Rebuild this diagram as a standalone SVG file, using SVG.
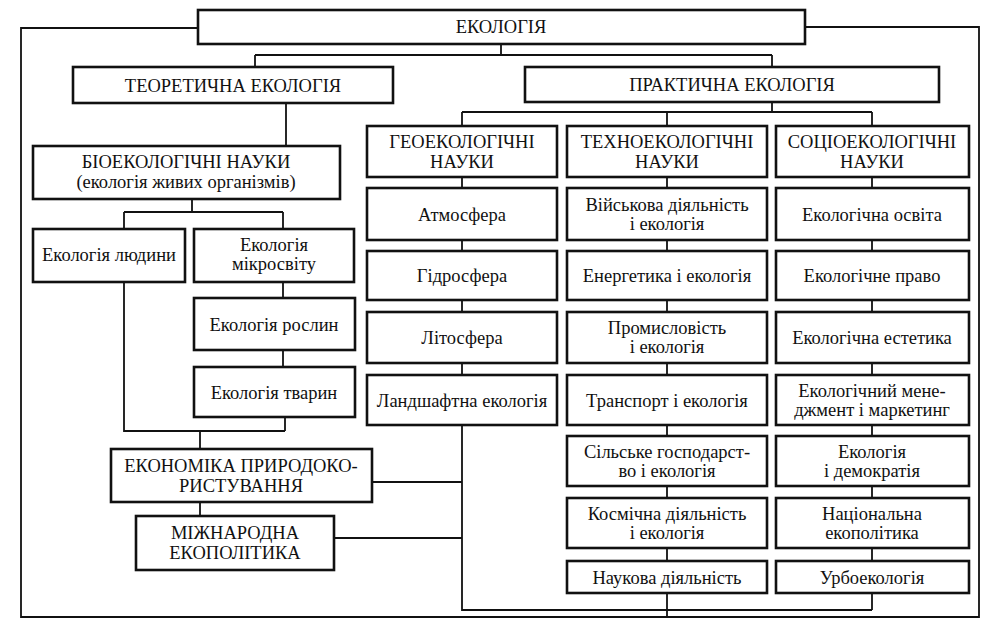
<svg xmlns="http://www.w3.org/2000/svg" width="987" height="626" viewBox="0 0 987 626">
<style>
.box{fill:#fff;stroke:#111;stroke-width:2.6}
.ln{fill:none;stroke:#111;stroke-width:1.8}
text{font-family:"Liberation Serif","Times New Roman",serif;fill:#111;text-anchor:middle}
.cap{font-size:18.5px}
.it{font-size:18.5px}
</style>
<rect width="987" height="626" fill="#fff"/>
<g id="connectors" class="ln">
<path d="M198,28 H21 V617 H979 V27 H805"/>
<path d="M501,44 V55 M255,55 H772 M255,55 V67 M772,55 V67"/>
<path d="M286,103 V146"/>
<path d="M772,102 V112 M462,112 H872 M462,112 V126 M667,112 V126 M872,112 V126"/>
<path d="M462,177 V188 M462,240 V251 M462,300 V312 M462,363 V375 M462,425 V610 H872"/>
<path d="M667,177 V188 M667,240 V251 M667,300 V312 M667,363 V375 M667,425 V436 M667,486 V498 M667,548 V561 M667,593 V617"/>
<path d="M872,177 V188 M872,240 V251 M872,300 V312 M872,363 V375 M872,425 V436 M872,486 V498 M872,548 V561 M872,593 V610"/>
<path d="M372,482 H462 M334,538 H462"/>
<path d="M192,199 V212 M124,212 H283 M124,212 V229 M283,212 V229"/>
<path d="M283,282 V298 M283,350 V367"/>
<path d="M124,282 V431 H285 M285,417 V431 M200,431 V449 M200,502 V516"/>
</g>
<g id="ekologiya"><rect class="box" x="198" y="10" width="607" height="34"/><text class="cap" x="501" y="33">ЕКОЛОГІЯ</text></g>
<g id="teor"><rect class="box" x="73" y="67" width="320" height="36"/><text class="cap" x="233" y="91.5">ТЕОРЕТИЧНА ЕКОЛОГІЯ</text></g>
<g id="prakt"><rect class="box" x="525" y="67" width="414" height="35"/><text class="cap" x="732" y="91">ПРАКТИЧНА ЕКОЛОГІЯ</text></g>
<g id="bio"><rect class="box" x="33" y="146" width="307" height="53"/><text class="cap" x="186" y="167.5">БІОЕКОЛОГІЧНІ НАУКИ</text><text class="it" x="186" y="187.5">(екологія живих організмів)</text></g>
<g id="lyudyny"><rect class="box" x="33" y="229" width="152" height="53"/><text class="it" x="109" y="261">Екологія людини</text></g>
<g id="mikro"><rect class="box" x="194" y="229" width="160" height="53"/><text class="it" x="274" y="250.5">Екологія</text><text class="it" x="274" y="269.5">мікросвіту</text></g>
<g id="roslyn"><rect class="box" x="194" y="298" width="161" height="52"/><text class="it" x="274" y="330.5">Екологія рослин</text></g>
<g id="tvaryn"><rect class="box" x="194" y="367" width="161" height="50"/><text class="it" x="274" y="398.5">Екологія тварин</text></g>
<g id="ekonomika"><rect class="box" x="111" y="449" width="261" height="53"/><text class="cap" x="241" y="471.5">ЕКОНОМІКА ПРИРОДОКО-</text><text class="cap" x="241" y="491.5">РИСТУВАННЯ</text></g>
<g id="mizhnar"><rect class="box" x="136" y="516" width="198" height="54"/><text class="cap" x="235" y="539">МІЖНАРОДНА</text><text class="cap" x="235" y="559">ЕКОПОЛІТИКА</text></g>
<g id="geo"><rect class="box" x="367" y="126" width="190" height="51"/><text class="cap" x="462" y="148">ГЕОЕКОЛОГІЧНІ</text><text class="cap" x="462" y="168">НАУКИ</text></g>
<g id="tekhno"><rect class="box" x="567" y="126" width="200" height="51"/><text class="cap" x="667" y="148">ТЕХНОЕКОЛОГІЧНІ</text><text class="cap" x="667" y="168">НАУКИ</text></g>
<g id="sotsio"><rect class="box" x="776" y="126" width="193" height="51"/><text class="cap" x="872" y="148">СОЦІОЕКОЛОГІЧНІ</text><text class="cap" x="872" y="168">НАУКИ</text></g>
<g id="atmo"><rect class="box" x="367" y="188" width="190" height="52"/><text class="it" x="462" y="220.5">Атмосфера</text></g>
<g id="hidro"><rect class="box" x="367" y="251" width="190" height="49"/><text class="it" x="462" y="282">Гідросфера</text></g>
<g id="lito"><rect class="box" x="367" y="312" width="190" height="51"/><text class="it" x="462" y="344">Літосфера</text></g>
<g id="landsh"><rect class="box" x="367" y="375" width="190" height="50"/><text class="it" x="462" y="406.5">Ландшафтна екологія</text></g>
<g id="viysk"><rect class="box" x="567" y="188" width="200" height="52"/><text class="it" x="667" y="210.5">Військова діяльність</text><text class="it" x="667" y="229.5">і екологія</text></g>
<g id="energ"><rect class="box" x="567" y="251" width="200" height="49"/><text class="it" x="667" y="282">Енергетика і екологія</text></g>
<g id="promysl"><rect class="box" x="567" y="312" width="200" height="51"/><text class="it" x="667" y="334">Промисловість</text><text class="it" x="667" y="353">і екологія</text></g>
<g id="transp"><rect class="box" x="567" y="375" width="200" height="50"/><text class="it" x="667" y="406.5">Транспорт і екологія</text></g>
<g id="silske"><rect class="box" x="567" y="436" width="200" height="50"/><text class="it" x="667" y="457.5">Сільське господарст-</text><text class="it" x="667" y="476.5">во і екологія</text></g>
<g id="kosm"><rect class="box" x="567" y="498" width="200" height="50"/><text class="it" x="667" y="519.5">Космічна діяльність</text><text class="it" x="667" y="538.5">і екологія</text></g>
<g id="naukova"><rect class="box" x="567" y="561" width="200" height="32"/><text class="it" x="667" y="583.5">Наукова діяльність</text></g>
<g id="osvita"><rect class="box" x="776" y="188" width="193" height="52"/><text class="it" x="872" y="220.5">Екологічна освіта</text></g>
<g id="pravo"><rect class="box" x="776" y="251" width="193" height="49"/><text class="it" x="872" y="282">Екологічне право</text></g>
<g id="estetyka"><rect class="box" x="776" y="312" width="193" height="51"/><text class="it" x="872" y="344">Екологічна естетика</text></g>
<g id="menedzh"><rect class="box" x="776" y="375" width="193" height="50"/><text class="it" x="872" y="396.5">Екологічний мене-</text><text class="it" x="872" y="415.5">джмент і маркетинг</text></g>
<g id="demokr"><rect class="box" x="776" y="436" width="193" height="50"/><text class="it" x="872" y="457.5">Екологія</text><text class="it" x="872" y="476.5">і демократія</text></g>
<g id="natsion"><rect class="box" x="776" y="498" width="193" height="50"/><text class="it" x="872" y="519.5">Національна</text><text class="it" x="872" y="538.5">екополітика</text></g>
<g id="urbo"><rect class="box" x="776" y="561" width="193" height="32"/><text class="it" x="872" y="583.5">Урбоекологія</text></g>
</svg>
